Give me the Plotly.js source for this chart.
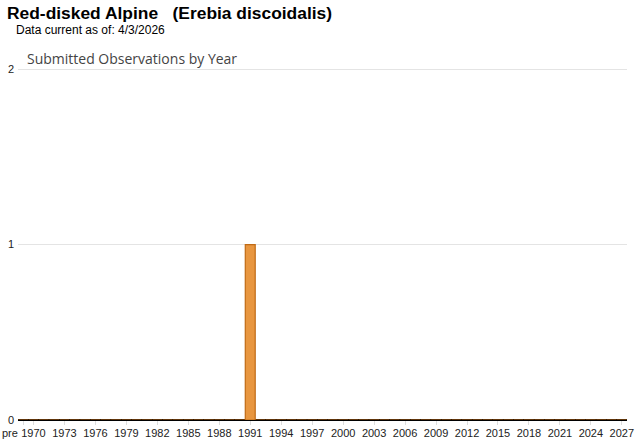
<!DOCTYPE html>
<html>
<head>
<meta charset="utf-8">
<script src="https://cdn.plot.ly/plotly-3.0.1.min.js"></script>
<style>html,body{margin:0;padding:0;background:#fff;}#chart{width:640px;height:442px;}</style>
</head>
<body>
<div id="chart"></div>
<script>
const chartTitle = "Red-disked Alpine   (Erebia discoidalis)";
const subTitle = "Data current as of: 4/3/2026";
const plotTitle = "Submitted Observations by Year";

const years = ["pre"];
for (let y = 1970; y <= 2027; y++) years.push(String(y));
const observedYears = ["1991"];
const observedCounts = [1];
const counts = years.map(y => { const i = observedYears.indexOf(y); return i >= 0 ? observedCounts[i] : 0; });
const tickLabels = ["1970","1973","1976","1979","1982","1985","1988","1991","1994","1997","2000","2003","2006","2009","2012","2015","2018","2021","2024","2027"];
const yTicks = [0, 1, 2];

const trace = {
  type: "bar",
  x: years,
  y: counts,
  marker: {color: "#e8963f", line: {color: "#c06a14", width: 1.2}},
  hoverinfo: "x+y"
};

const layout = {
  width: 640, height: 442,
  margin: {l: 18, r: 13, t: 68, b: 22},
  paper_bgcolor: "#fff", plot_bgcolor: "#fff",
  bargap: 0.04,
  showlegend: false,
  xaxis: {
    type: "category",
    categoryorder: "array", categoryarray: years,
    range: [-0.5, years.length - 0.5],
    tickmode: "array", tickvals: ["pre"].concat(tickLabels), ticktext: [""].concat(tickLabels),
    tickangle: 0,
    ticks: "outside", ticklen: 4, tickcolor: "#dddddd", tickwidth: 1,
    tickfont: {family: "Arial, Liberation Sans, sans-serif", size: 11, color: "#222"},
    ticklabelstandoff: -1,
    showgrid: false, zeroline: false,
    showline: false, fixedrange: true
  },
  yaxis: {
    range: [0, 2.006],
    tickmode: "array", tickvals: yTicks,
    tickfont: {family: "Arial, Liberation Sans, sans-serif", size: 11, color: "#222"},
    showgrid: true, gridcolor: "#e4e4e4", gridwidth: 1,
    zeroline: true, zerolinecolor: "#000", zerolinewidth: 1.5,
    ticks: "", ticklabelstandoff: 3, fixedrange: true
  },
  annotations: [
    {text: "<b>" + chartTitle + "</b>", xref: "paper", yref: "paper", x: -0.021, y: 1, xanchor: "left", yanchor: "bottom", yshift: 43, showarrow: false,
     font: {family: "Arial, Liberation Sans, sans-serif", size: 17.4, color: "#000"}},
    {text: subTitle, xref: "paper", yref: "paper", x: -0.006, y: 1, xanchor: "left", yanchor: "bottom", yshift: 29, showarrow: false,
     font: {family: "Arial, Liberation Sans, sans-serif", size: 12, color: "#000"}},
    {text: plotTitle, xref: "paper", yref: "paper", x: 0.0115, y: 1, xanchor: "left", yanchor: "bottom", yshift: -2, showarrow: false,
     font: {family: "Open Sans, Noto Sans, sans-serif", size: 14, color: "#444"}},
    {text: "pre", xref: "x", yref: "paper", x: "pre", y: 0, xanchor: "center", yanchor: "top", xshift: -13, yshift: -5, showarrow: false,
     font: {family: "Arial, Liberation Sans, sans-serif", size: 11, color: "#222"}}
  ]
};

Plotly.newPlot("chart", [trace], layout, {displayModeBar: false, staticPlot: true});
</script>
</body>
</html>
